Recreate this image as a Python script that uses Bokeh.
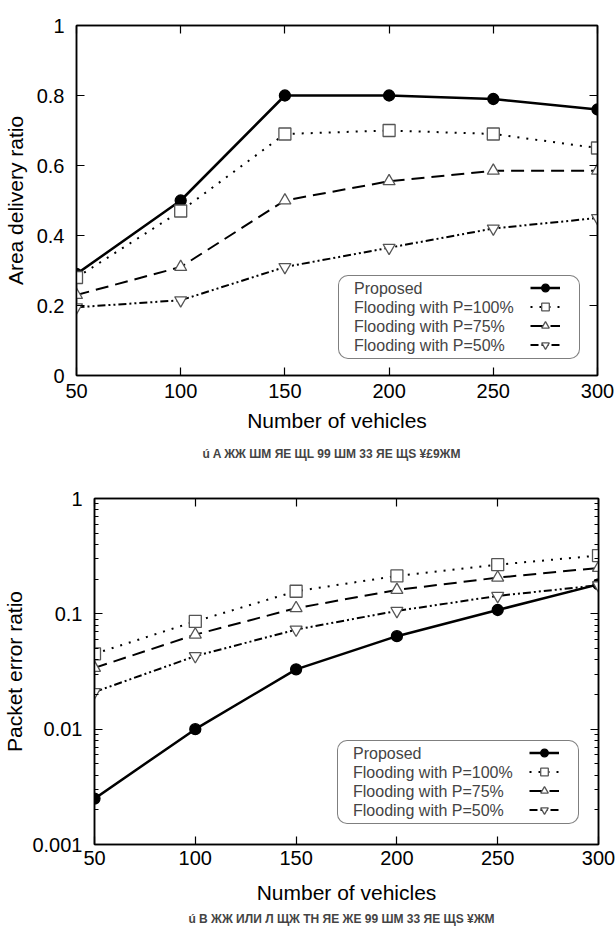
from bokeh.plotting import figure
from bokeh.models import (LinearAxis, LogAxis, FixedTicker, NumeralTickFormatter, Title,
                          Legend, LegendItem, Range1d, CustomJSTickFormatter)
from bokeh.embed import file_html
from bokeh.resources import INLINE

vehicles = [50, 100, 150, 200, 250, 300]
series_names = ["Proposed", "Flooding with P=100%", "Flooding with P=75%", "Flooding with P=50%"]

adr_proposed = [0.29, 0.50, 0.80, 0.80, 0.79, 0.76]
adr_p100 = [0.28, 0.47, 0.69, 0.70, 0.69, 0.65]
adr_p75 = [0.23, 0.31, 0.50, 0.555, 0.585, 0.585]
adr_p50 = [0.195, 0.215, 0.31, 0.365, 0.42, 0.45]

per_proposed = [0.0025, 0.010, 0.033, 0.064, 0.108, 0.18]
per_p100 = [0.045, 0.086, 0.157, 0.213, 0.267, 0.32]
per_p75 = [0.034, 0.066, 0.112, 0.161, 0.206, 0.25]
per_p50 = [0.021, 0.043, 0.073, 0.106, 0.143, 0.177]

x_ticks = [50, 100, 150, 200, 250, 300]
adr_ticks = [0, 0.2, 0.4, 0.6, 0.8, 1]
per_ticks = [0.001, 0.01, 0.1, 1]
per_minor = [m * d for d in (0.001, 0.01, 0.1) for m in range(2, 10)]

caption_a = "ú  A  ЖЖ ШМ ЯЕ ЩL 99  ШМ 33 ЯЕ ЩS ¥£9ЖМ"
caption_b = "ú  B  ЖЖ ИЛИ Л ЩЖ ТН ЯЕ ЖЕ 99  ШМ 33 ЯЕ ЩS ¥ЖМ"

FONT = "Liberation Sans"
styles = [
    dict(dash="solid", width=2.5, marker="circle", size=11, fill="black", mcolor="black"),
    dict(dash="2 7", width=2.0, marker="square", size=12, fill="white", mcolor="#555555"),
    dict(dash="13 7", width=2.0, marker="triangle", size=12, fill="white", mcolor="#555555"),
    dict(dash="8 3 2 3 2 3", width=2.0, marker="inverted_triangle", size=12, fill="white", mcolor="#555555"),
]


def style_axis(ax, label=True):
    ax.major_tick_in = 8
    ax.major_tick_out = 0
    ax.minor_tick_in = 4
    ax.minor_tick_out = 0
    ax.axis_line_color = "black"
    ax.axis_line_width = 1.5
    ax.major_tick_line_color = "black"
    ax.major_tick_line_width = 1.2
    ax.minor_tick_line_color = "black"
    ax.major_label_text_font = FONT
    ax.major_label_text_font_size = "20px"
    ax.major_label_text_color = "black"
    ax.axis_label_text_font = FONT
    ax.axis_label_text_font_size = "21px"
    ax.axis_label_text_font_style = "normal"
    ax.axis_label_text_color = "black"
    if not label:
        ax.formatter = CustomJSTickFormatter(code="return ''")
        ax.major_label_standoff = 0


def make_fig(ys, log, height, mb_left, mb_right, mb_top, mb_bottom, ylabel, caption,
             legend_xy, glyph_xy, x_std, xl_std, yl_std, cap_std):
    kw = dict(width=616, height=height, output_backend="svg", toolbar_location=None,
              x_range=Range1d(50, 300),
              min_border_left=mb_left, min_border_right=mb_right,
              min_border_top=mb_top, min_border_bottom=mb_bottom)
    if log:
        p = figure(y_axis_type="log", y_range=Range1d(0.001, 1), **kw)
    else:
        p = figure(y_range=Range1d(0, 1), **kw)
    p.xgrid.visible = False
    p.ygrid.visible = False
    p.outline_line_color = "black"
    p.outline_line_width = 1.5
    p.background_fill_color = "white"
    p.border_fill_color = "white"

    p.xaxis.axis_label = "Number of vehicles"
    p.yaxis.axis_label = ylabel
    p.xaxis.ticker = FixedTicker(ticks=x_ticks)
    if log:
        p.yaxis.ticker = FixedTicker(ticks=per_ticks, minor_ticks=per_minor)
        p.yaxis.formatter = NumeralTickFormatter(format="0.[000]")
    else:
        p.yaxis.ticker = FixedTicker(ticks=adr_ticks)
        p.yaxis.formatter = NumeralTickFormatter(format="0.[0]")
    for ax in list(p.xaxis) + list(p.yaxis):
        style_axis(ax)
    p.xaxis.major_label_standoff = x_std
    p.xaxis.axis_label_standoff = xl_std
    p.yaxis.major_label_standoff = 12
    p.yaxis.axis_label_standoff = yl_std

    top = LinearAxis(ticker=FixedTicker(ticks=x_ticks))
    style_axis(top, label=False)
    top.minor_tick_line_color = None
    p.add_layout(top, "above")
    if log:
        right = LogAxis(ticker=FixedTicker(ticks=per_ticks, minor_ticks=per_minor))
    else:
        right = LinearAxis(ticker=FixedTicker(ticks=adr_ticks))
    style_axis(right, label=False)
    if not log:
        right.minor_tick_line_color = None
    p.add_layout(right, "right")
    p.xaxis.minor_tick_line_color = None
    if not log:
        p.yaxis.minor_tick_line_color = None

    text_items = []
    glyph_items = []
    for name, y, st in zip(series_names, ys, styles):
        r1 = p.line(vehicles, y, line_color="black", line_width=st["width"], line_dash=st["dash"])
        r2 = p.scatter(vehicles, y, marker=st["marker"], size=st["size"],
                       fill_color=st["fill"], line_color=st["mcolor"], line_width=1.3)
        ghost = p.line(vehicles, y, line_alpha=0)
        text_items.append(LegendItem(label=name, renderers=[ghost]))
        glyph_items.append(LegendItem(label=" ", renderers=[r1, r2]))

    common = dict(label_text_font=FONT, label_text_font_size="16px", label_height=19,
                  glyph_height=19, spacing=0, padding=3, margin=0)
    text_leg = Legend(items=text_items, location=legend_xy, glyph_width=1, label_standoff=11,
                      label_width=222, border_line_color="black", border_line_width=1.2,
                      background_fill_color="white", background_fill_alpha=1.0, **common)
    if "border_radius" in Legend.properties():
        text_leg.border_radius = 10
    glyph_leg = Legend(items=glyph_items, location=glyph_xy, glyph_width=30,
                       label_standoff=0, label_width=1, border_line_color=None,
                       background_fill_alpha=0.0, **common)
    p.add_layout(text_leg, "center")
    p.add_layout(glyph_leg, "center")

    p.add_layout(Title(text=caption, align="center", text_font=FONT, text_font_size="12px",
                       text_font_style="bold", standoff=cap_std), "below")
    return p


p1 = make_fig([adr_proposed, adr_p100, adr_p75, adr_p50], False, 472, 75, 19, 25, 97,
              "Area delivery ratio", caption_a, (262, 16), (454, 21), 8, 8, 7, 21)
p2 = make_fig([per_proposed, per_p100, per_p75, per_p50], True, 457, 94, 18, 26, 84,
              "Packet error ratio", caption_b, (243, 20), (435, 25), 6, 13, 3, 7)

open("out.html", "w").write(file_html([p1, p2], INLINE))
